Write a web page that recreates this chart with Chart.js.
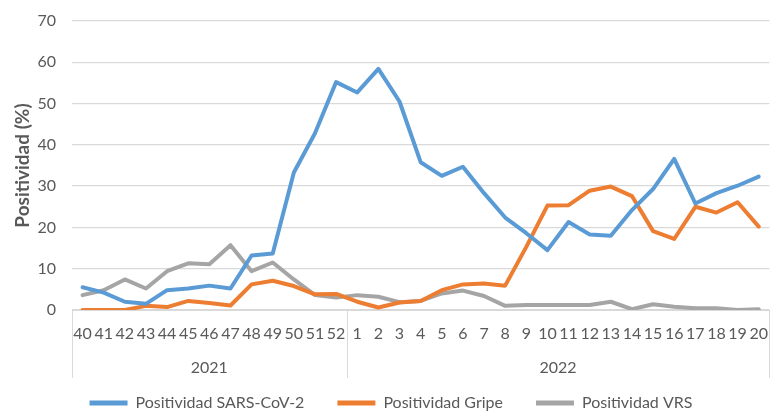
<!DOCTYPE html>
<html>
<head>
<meta charset="utf-8">
<script src="https://cdn.jsdelivr.net/npm/chart.js@4.4.0/dist/chart.umd.min.js"></script>
<style>
  html, body { margin: 0; padding: 0; background: #fff; overflow: hidden; }
  #wrap { width: 782px; height: 412px; position: relative; }
</style>
</head>
<body>
<div id="wrap"><canvas id="positividadChart"></canvas></div>
<script>
// Semanas epidemiológicas por año
const weeks2021 = ['40', '41', '42', '43', '44', '45', '46', '47', '48', '49', '50', '51', '52'];
const weeks2022 = ['1', '2', '3', '4', '5', '6', '7', '8', '9', '10', '11', '12', '13', '14', '15', '16', '17', '18', '19', '20'];
const yearLabels = ['2021', '2022'];

// Positividad (%) por semana
const sarsCov2 = [5.5, 4.2, 2.0, 1.5, 4.8, 5.2, 5.9, 5.2, 13.2, 13.7, 33.3, 42.8, 55.2,
  52.7, 58.4, 50.5, 35.8, 32.5, 34.7, 28.3, 22.4, 18.6, 14.5, 21.3, 18.3, 18.0, 24.2, 29.3, 36.6, 25.8, 28.3, 30.1, 32.3];
const gripe = [0, 0, 0, 1.0, 0.7, 2.2, 1.7, 1.1, 6.2, 7.1, 5.8, 3.8, 3.9,
  2.0, 0.6, 1.8, 2.2, 4.8, 6.2, 6.4, 5.9, 15.3, 25.3, 25.4, 28.9, 29.9, 27.6, 19.1, 17.2, 25.0, 23.6, 26.1, 20.2];
const vrs = [3.6, 4.8, 7.4, 5.2, 9.4, 11.3, 11.1, 15.7, 9.4, 11.5, 7.4, 3.6, 3.0,
  3.6, 3.2, 1.9, 2.2, 4.0, 4.7, 3.4, 1.0, 1.2, 1.2, 1.2, 1.2, 2.0, 0.2, 1.4, 0.8, 0.4, 0.4, 0.0, 0.2];

const yTicks = [0, 10, 20, 30, 40, 50, 60, 70];

const textColor = '#595959';
const gridColor = '#D9D9D9';
const fontFamily = 'Lato, "Noto Sans", sans-serif';

const labels = weeks2021.concat(weeks2022);
const yearGroups = [weeks2021.length, weeks2022.length];

// Eje de categorías de dos niveles (año debajo de la semana)
const yearAxisPlugin = {
  id: 'yearAxis',
  afterDraw(chart) {
    const ctx = chart.ctx;
    const x = chart.scales.x;
    const bottom = chart.chartArea.bottom;
    const half = (x.getPixelForValue(1) - x.getPixelForValue(0)) / 2;
    ctx.save();
    ctx.strokeStyle = gridColor;
    ctx.lineWidth = 1;
    ctx.fillStyle = textColor;
    ctx.font = '16px ' + fontFamily;
    ctx.textAlign = 'center';
    ctx.textBaseline = 'middle';
    let start = 0;
    yearGroups.forEach((count, i) => {
      const left = x.getPixelForValue(start) - half;
      const right = x.getPixelForValue(start + count - 1) + half;
      [left, right].forEach(px => {
        ctx.beginPath();
        ctx.moveTo(Math.round(px) + 0.5, bottom);
        ctx.lineTo(Math.round(px) + 0.5, bottom + 68);
        ctx.stroke();
      });
      ctx.fillText(yearLabels[i], (left + right) / 2, bottom + 58);
      start += count;
    });
    ctx.restore();
  }
};

const canvas = document.getElementById('positividadChart');

new Chart(canvas, {
  type: 'line',
  data: {
    labels: labels,
    datasets: [{
      label: 'Positividad SARS-CoV-2',
      data: sarsCov2,
      borderColor: '#5B9BD5',
      backgroundColor: '#5B9BD5'
    }, {
      label: 'Positividad Gripe',
      data: gripe,
      borderColor: '#ED7D31',
      backgroundColor: '#ED7D31'
    }, {
      label: 'Positividad VRS',
      data: vrs,
      borderColor: '#A5A5A5',
      backgroundColor: '#A5A5A5'
    }]
  },
  options: {
    responsive: true,
    maintainAspectRatio: false,
    animation: false,
    layout: { padding: { top: 21, right: 0, bottom: -9, left: 0 } },
    elements: {
      line: { borderWidth: 4, tension: 0, borderJoinStyle: 'round', borderCapStyle: 'round' },
      point: { radius: 0, hoverRadius: 0 }
    },
    scales: {
      x: {
        offset: true,
        grid: { display: false, drawTicks: false },
        border: { display: true, color: gridColor },
        ticks: {
          color: textColor,
          font: { family: fontFamily, size: 16 },
          padding: 14,
          maxRotation: 0,
          autoSkip: false
        },
        afterFit(scale) { scale.height = 52; }
      },
      y: {
        min: 0,
        max: 70,
        afterBuildTicks(scale) { scale.ticks = yTicks.map(v => ({ value: v })); },
        grid: { color: gridColor, lineWidth: 1.3, drawTicks: false },
        border: { display: false },
        ticks: {
          color: textColor,
          font: { family: fontFamily, size: 16 },
          padding: 16
        },
        title: {
          display: true,
          text: 'Positividad (%)',
          color: textColor,
          font: { family: fontFamily, size: 19, weight: 'bold' },
          padding: { top: 11, bottom: 0 }
        },
        afterFit(scale) {
          scale.width = 72;
          scale.paddingTop = 0;
          scale.paddingBottom = 0;
        }
      }
    },
    plugins: {
      legend: {
        position: 'bottom',
        labels: {
          color: textColor,
          font: { family: fontFamily, size: 16 },
          boxWidth: 38,
          boxHeight: 5,
          padding: 33,
          generateLabels(chart) {
            const items = Chart.defaults.plugins.legend.labels.generateLabels(chart);
            items.forEach(it => { it.lineWidth = 0; });
            return items;
          }
        }
      },
      tooltip: { enabled: false }
    }
  },
  plugins: [yearAxisPlugin]
});
</script>
</body>
</html>
